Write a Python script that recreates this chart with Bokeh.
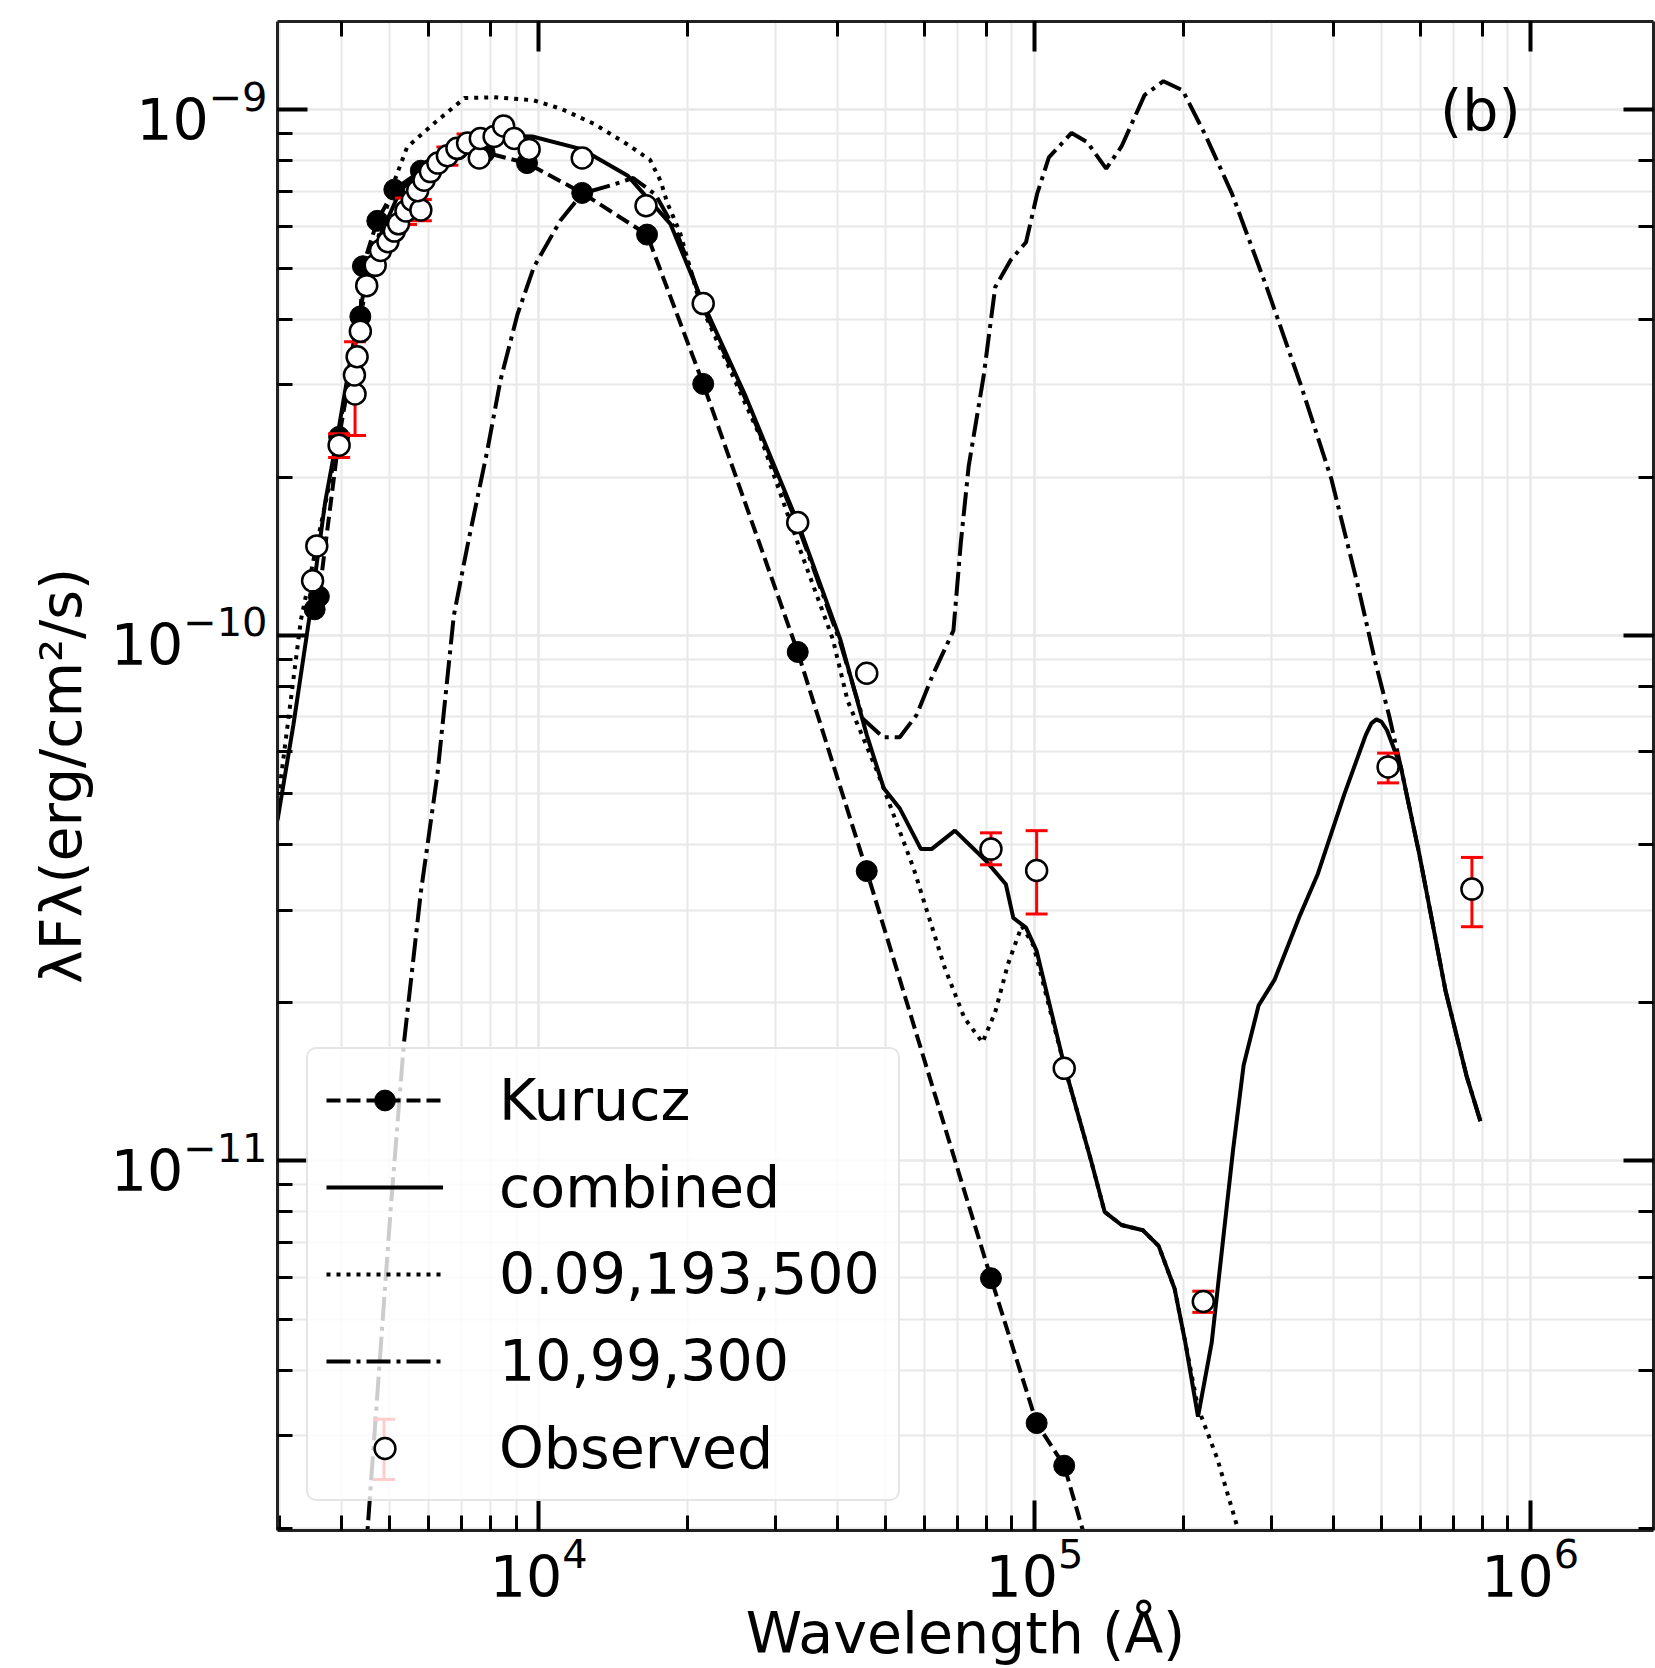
import math
from bokeh.plotting import figure
from bokeh.models import (LogAxis, LogTicker, Legend, LegendItem, Label, Range1d, Whisker,
                          TeeHead, ColumnDataSource)
from bokeh.embed import file_html
from bokeh.resources import INLINE

# ---------------- data (wavelength in Angstrom, lambda*F_lambda in erg/cm^2/s) -------------
obs_wave = [3499, 3568, 3958, 4262, 4250, 4303, 4368, 4499, 4680, 4797, 4965, 5115, 5216,
            5399, 5562, 5785, 5700, 5871, 6048, 6261, 6544, 6841, 7187, 7588, 7625, 8130,
            8498, 8928, 9566, 12240, 16460, 21470, 33300, 45880, 81700, 101000, 114800,
            219000, 516600, 762500]
obs_flux = [1.27e-10, 1.48e-10, 2.30e-10, 2.88e-10, 3.13e-10, 3.39e-10, 3.79e-10, 4.63e-10,
            5.06e-10, 5.40e-10, 5.61e-10, 5.88e-10, 6.07e-10, 6.42e-10, 6.73e-10, 6.45e-10,
            7.02e-10, 7.35e-10, 7.63e-10, 7.92e-10, 8.18e-10, 8.45e-10, 8.65e-10, 8.10e-10,
            8.82e-10, 8.90e-10, 9.32e-10, 8.82e-10, 8.41e-10, 8.10e-10, 6.57e-10, 4.28e-10,
            1.64e-10, 8.47e-11, 3.92e-11, 3.57e-11, 1.50e-11, 5.40e-12, 5.62e-11, 3.29e-11]

err_wave = [4262, 3958, 5399, 5785, 6544, 7187, 81700, 101000, 219000, 516600, 762500]
err_lo = [2.40e-10, 2.18e-10, 6.05e-10, 6.15e-10, 7.85e-10, 8.30e-10, 3.66e-11, 2.95e-11,
          5.15e-12, 5.24e-11, 2.79e-11]
err_hi = [3.62e-10, 2.42e-10, 6.80e-10, 6.75e-10, 8.50e-10, 9.00e-10, 4.21e-11, 4.25e-11,
          5.65e-12, 5.97e-11, 3.78e-11]

kur_wave = [3533, 3603, 3958, 4368, 4420, 4726, 5115, 5785, 6876, 7778, 9472, 12240, 16540,
            21470, 33300, 45880, 81700, 101000, 114800]
kur_flux = [1.121e-10, 1.186e-10, 2.387e-10, 4.045e-10, 5.04e-10, 6.15e-10, 7.05e-10,
            7.66e-10, 8.41e-10, 8.30e-10, 7.92e-10, 6.95e-10, 5.79e-10, 3.01e-10, 9.30e-11,
            3.56e-11, 5.98e-12, 3.17e-12, 2.63e-12]
kur_tail_wave = [130000]
kur_tail_flux = [1.75e-12]

comb_wave = [2973, 3202, 3447, 3712, 3958, 4199, 4411, 4750, 5242, 5929, 6876, 7970, 9709,
             12240, 15130, 18430, 21480, 26030, 33300, 40560, 45900, 49650, 53460, 59010,
             62000, 69090, 79700, 87550, 90630, 96140, 101000, 114800, 129900, 138500,
             149800, 165400, 178000, 191700, 201400, 213700, 227800, 239300, 251400, 264100,
             283100, 304800, 341400, 372900, 422000, 465600, 478000, 489200, 501000, 514000,
             548100, 596000, 674300, 743900, 793100]
comb_flux = [4.45e-11, 6.77e-11, 1.08e-10, 1.80e-10, 2.50e-10, 3.47e-10, 4.38e-10, 5.66e-10,
             6.98e-10, 7.96e-10, 8.61e-10, 8.94e-10, 8.90e-10, 8.41e-10, 7.49e-10, 6.07e-10,
             4.28e-10, 2.88e-10, 1.64e-10, 9.84e-11, 6.46e-11, 5.12e-11, 4.69e-11, 3.92e-11,
             3.92e-11, 4.25e-11, 3.73e-11, 3.36e-11, 2.90e-11, 2.78e-11, 2.51e-11, 1.52e-11,
             1.005e-11, 8.0e-12, 7.55e-12, 7.38e-12, 6.89e-12, 5.71e-12, 4.52e-12, 3.26e-12,
             4.52e-12, 6.89e-12, 1.047e-11, 1.52e-11, 1.976e-11, 2.21e-11, 2.90e-11, 3.52e-11,
             5.0e-11, 6.46e-11, 6.80e-11, 6.92e-11, 6.85e-11, 6.60e-11, 5.62e-11, 3.87e-11,
             2.11e-11, 1.45e-11, 1.19e-11]

dot_wave = [3003, 3314, 3802, 4199, 4634, 5112, 5426, 6138, 7086, 8128, 9757, 11090, 12920,
            15060, 16780, 17630, 18160, 19270, 21160, 28030, 33630, 39190, 42000, 48440,
            57000, 65920, 72220, 78560, 83330, 88420, 94260, 99520, 114800, 129900, 138500,
            149800, 165400, 178000, 191700, 201400, 213700, 233500, 257700]
dot_flux = [5.12e-11, 1.07e-10, 1.98e-10, 3.39e-10, 5.28e-10, 7.31e-10, 8.49e-10, 9.41e-10,
            1.053e-9, 1.057e-9, 1.043e-9, 1.005e-9, 9.41e-10, 8.61e-10, 8.03e-10, 7.31e-10,
            6.66e-10, 5.85e-10, 4.28e-10, 2.38e-10, 1.46e-10, 9.84e-11, 7.50e-11, 5.44e-11,
            3.61e-11, 2.33e-11, 1.87e-11, 1.68e-11, 1.92e-11, 2.37e-11, 2.80e-11, 2.57e-11,
            1.52e-11, 1.005e-11, 8.0e-12, 7.55e-12, 7.38e-12, 6.89e-12, 5.71e-12, 4.52e-12,
            3.39e-12, 2.72e-12, 1.98e-12]

dd_wave = [4411, 4516, 5030, 5346, 5786, 6248, 6742, 7178, 7878, 8374, 9060, 9776, 11060,
           12240, 13950, 15510, 17200, 18980, 19900, 21480, 26030, 33300, 40560, 45120,
           49530, 53480, 57850, 62290, 68620, 71050, 73670, 78940, 83330, 89540, 96140,
           101300, 106900, 118800, 127600, 139500, 149800, 166700, 182000, 198900, 221200,
           250200, 293900, 344700, 397200, 449500, 486800, 519100, 548100, 596000, 674300,
           743900, 793100]
dd_flux = [1.46e-12, 1.98e-12, 8.11e-12, 1.67e-11, 3.25e-11, 5.44e-11, 1.09e-10, 1.476e-10,
           2.25e-10, 3.06e-10, 4.08e-10, 5.02e-10, 6.16e-10, 6.93e-10, 7.18e-10, 7.42e-10,
           6.9e-10, 5.85e-10, 5.20e-10, 4.20e-10, 2.84e-10, 1.62e-10, 9.7e-11, 6.93e-11,
           6.40e-11, 6.40e-11, 7.06e-11, 8.39e-11, 1.021e-10, 1.506e-10, 2.10e-10, 3.11e-10,
           4.60e-10, 5.18e-10, 5.60e-10, 6.94e-10, 8.12e-10, 9.04e-10, 8.69e-10, 7.73e-10,
           8.52e-10, 1.067e-9, 1.134e-9, 1.09e-9, 8.95e-10, 6.93e-10, 4.60e-10, 2.99e-10,
           1.98e-10, 1.238e-10, 8.90e-11, 7.03e-11, 5.62e-11, 3.87e-11, 2.11e-11, 1.45e-11,
           1.19e-11]

legend_labels = ["Kurucz", "combined", "0.09,193,500", "10,99,300", "Observed"]
panel_tag = "(b)"
x_limits = (2973, 1.772e6)
y_limits = (1.98e-12, 1.473e-9)

# ---------------- figure ----------------
FONT = "DejaVu Sans"
FS = "57px"
LW = 4

p = figure(width=1655, height=1668, x_axis_type="log", y_axis_type="log",
           x_range=Range1d(*x_limits), y_range=Range1d(*y_limits),
           output_backend="svg", toolbar_location=None,
           min_border_left=277, min_border_right=2, min_border_top=21, min_border_bottom=120)
p.outline_line_color = None
p.background_fill_color = "white"
p.border_fill_color = "white"

def style_axis(ax, labels=True):
    ax.major_tick_in = 30
    ax.major_tick_out = 0
    ax.minor_tick_in = 15
    ax.minor_tick_out = 0
    ax.major_tick_line_width = 4
    ax.minor_tick_line_width = 3
    ax.major_tick_line_color = "black"
    ax.minor_tick_line_color = "black"
    ax.axis_line_width = 3
    ax.axis_line_color = "#222222"
    ax.major_label_text_font = FONT
    ax.axis_label_text_font = FONT
    ax.axis_label_text_font_size = FS
    ax.axis_label_text_font_style = "normal"
    ax.axis_label_text_color = "black"
    ax.major_label_text_color = "black"
    if labels:
        ax.major_label_text_font_size = FS
        ax.major_label_standoff = 10
    else:
        ax.major_label_text_font_size = "1px"
        ax.major_label_text_alpha = 0
        ax.major_label_standoff = 0

style_axis(p.xaxis[0])
style_axis(p.yaxis[0])
p.xaxis[0].axis_label = "Wavelength (Å)"
p.yaxis[0].axis_label = "λFλ(erg/cm²/s)"
p.xaxis[0].major_label_standoff = 6
p.xaxis[0].axis_label_standoff = 0
p.yaxis[0].axis_label_standoff = 14

top_ax = LogAxis(ticker=LogTicker())
style_axis(top_ax, labels=False)
p.add_layout(top_ax, "above")
right_ax = LogAxis(ticker=LogTicker())
style_axis(right_ax, labels=False)
p.add_layout(right_ax, "right")

for g in (p.xgrid[0], p.ygrid[0]):
    g.grid_line_color = "#e8e8e8"
    g.grid_line_width = 2
    g.minor_grid_line_color = "#e8e8e8"
    g.minor_grid_line_width = 2

# ---------------- renderers ----------------
kl = p.line(kur_wave + kur_tail_wave, kur_flux + kur_tail_flux, line_color="black",
            line_width=LW, line_dash="14 6")
ks = p.scatter(kur_wave, kur_flux, marker="circle", size=21, fill_color="black",
               line_color="black")
cl = p.line(comb_wave, comb_flux, line_color="black", line_width=LW)
dl = p.line(dot_wave, dot_flux, line_color="black", line_width=LW, line_dash="4 6")
ddl = p.line(dd_wave, dd_flux, line_color="black", line_width=LW, line_dash="24 6 4 6")

p.segment(x0=err_wave, y0=err_lo, x1=err_wave, y1=err_hi, line_color="red", line_width=3)
p.scatter(err_wave + err_wave, err_lo + err_hi, marker="dash", size=22, line_color="red",
          line_width=3)
osr = p.scatter(obs_wave, obs_flux, marker="circle", size=21, fill_color="white",
                line_color="black", line_width=2.5)

legend = Legend(items=[
    LegendItem(label=legend_labels[0], renderers=[kl, ks]),
    LegendItem(label=legend_labels[1], renderers=[cl]),
    LegendItem(label=legend_labels[2], renderers=[dl]),
    LegendItem(label=legend_labels[3], renderers=[ddl]),
    LegendItem(label=legend_labels[4], renderers=[osr]),
], location="bottom_left", level="annotation")
legend.label_text_font = FONT
legend.label_text_font_size = FS
legend.label_text_color = "black"
legend.glyph_width = 117
legend.glyph_height = 52
legend.label_height = 52
legend.label_standoff = 56
legend.spacing = 21
legend.padding = 18
legend.margin = 29
legend.border_line_color = "#cccccc"
legend.border_line_width = 2
legend.background_fill_alpha = 0.8
legend.border_radius = 10
p.add_layout(legend)

# legend key for "Observed": red error bar above and below the legend's open circle,
# added after the legend at overlay level so it is drawn on top of the legend box
def frame_frac_to_data(lim, f):
    lo, hi = math.log10(lim[0]), math.log10(lim[1])
    return 10 ** (lo + f * (hi - lo))

key_x = frame_frac_to_data(x_limits, 0.0774)
key_lo = frame_frac_to_data(y_limits, 0.0338)
key_c_lo = frame_frac_to_data(y_limits, 0.0468)
key_c_hi = frame_frac_to_data(y_limits, 0.0608)
key_hi = frame_frac_to_data(y_limits, 0.0737)

up_src = ColumnDataSource(dict(base=[key_x], lower=[key_c_hi], upper=[key_hi]))
lo_src = ColumnDataSource(dict(base=[key_x], lower=[key_lo], upper=[key_c_lo]))
p.add_layout(Whisker(source=up_src, base="base", lower="lower", upper="upper",
                     dimension="height", line_color="red", line_width=3, lower_head=None,
                     upper_head=TeeHead(size=22, line_color="red", line_width=3),
                     level="overlay"))
p.add_layout(Whisker(source=lo_src, base="base", lower="lower", upper="upper",
                     dimension="height", line_color="red", line_width=3, upper_head=None,
                     lower_head=TeeHead(size=22, line_color="red", line_width=3),
                     level="overlay"))

p.add_layout(Label(x=7.93e5, y=1e-9, text=panel_tag, text_font=FONT, text_font_size=FS,
                   text_align="center", text_baseline="middle", text_color="black"))

open("out.html", "w").write(file_html(p, INLINE))
